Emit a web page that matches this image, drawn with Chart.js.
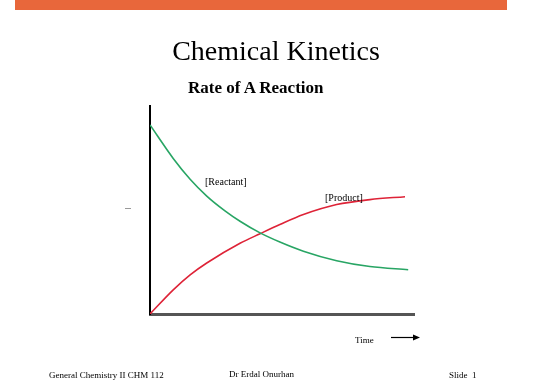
<!DOCTYPE html>
<html>
<head>
<meta charset="utf-8">
<script src="https://cdn.jsdelivr.net/npm/chart.js@4"></script>
<style>
  html,body{margin:0;padding:0;background:#fff;}
  #wrap{position:relative;width:550px;height:388px;overflow:hidden;font-family:"Liberation Serif","DejaVu Serif",serif;color:#000;}
  #bar{position:absolute;left:15px;top:0;width:492px;height:10px;background:#E8673B;}
  canvas{position:absolute;left:0;top:0;}
  .t{position:absolute;white-space:nowrap;line-height:1;}
</style>
</head>
<body>
<div id="wrap">
  <div id="bar"></div>
  <canvas id="c" width="550" height="388"></canvas>
  <div class="t" style="left:0;width:552px;text-align:center;top:37px;font-size:28px;">Chemical Kinetics</div>
  <div class="t" style="left:188px;top:79px;font-size:17px;font-weight:bold;">Rate of A Reaction</div>
  <div class="t" style="left:205px;top:177px;font-size:10px;">[Reactant]</div>
  <div class="t" style="left:325px;top:193px;font-size:10px;">[Product]</div>
  <div class="t" style="left:355px;top:336px;font-size:9px;">Time</div>
  <div class="t" style="left:49px;top:371px;font-size:9px;">General Chemistry II CHM 112</div>
  <div class="t" style="left:229px;top:370px;font-size:9px;">Dr Erdal Onurhan</div>
  <div class="t" style="left:449px;top:371px;font-size:9px;">Slide&nbsp; 1</div>
</div>
<script>
// Time points (arbitrary units) and concentrations
const reactantTime = [0, 0.88, 1.52, 2.15, 2.84, 3.41, 4.17, 4.92, 5.81, 7.07, 8.33, 9.78];
const reactantConc = [90.9, 74.8, 64.8, 56.7, 49.6, 44.6, 39.0, 34.6, 30.2, 25.6, 22.8, 21.3];
const productTime  = [0, 0.88, 1.52, 2.15, 3.41, 4.17, 4.92, 5.81, 7.07, 8.33, 9.66];
const productConc  = [0, 11.6, 18.8, 24.5, 34.0, 38.6, 43.0, 47.8, 52.6, 55.0, 56.4];
const seriesNames  = ["[Reactant]", "[Product]"];

const toPts = (xs, ys) => xs.map((x, i) => ({x: x, y: ys[i]}));

const extras = {
  id: 'extras',
  afterDraw(chart) {
    const ctx = chart.ctx;
    ctx.save();
    ctx.strokeStyle = '#999';
    ctx.lineWidth = 1;
    ctx.beginPath(); ctx.moveTo(125, 208.5); ctx.lineTo(131, 208.5); ctx.stroke();
    ctx.strokeStyle = '#000';
    ctx.fillStyle = '#000';
    ctx.lineWidth = 1.2;
    ctx.beginPath(); ctx.moveTo(391, 337.5); ctx.lineTo(416, 337.5); ctx.stroke();
    ctx.beginPath(); ctx.moveTo(420, 337.5); ctx.lineTo(413, 334.5); ctx.lineTo(413, 340.5); ctx.closePath(); ctx.fill();
    ctx.restore();
  }
};

new Chart(document.getElementById('c'), {
  type: 'line',
  data: {
    datasets: [
      {label: seriesNames[0], data: toPts(reactantTime, reactantConc), borderColor: 'rgb(40,165,100)', borderWidth: 1.6, pointRadius: 0, cubicInterpolationMode: 'monotone', fill: false},
      {label: seriesNames[1], data: toPts(productTime, productConc), borderColor: 'rgb(222,35,55)', borderWidth: 1.6, pointRadius: 0, cubicInterpolationMode: 'monotone', fill: false}
    ]
  },
  options: {
    responsive: false,
    animation: false,
    layout: {padding: {left: 150, right: 136, top: 106, bottom: 74}},
    plugins: {legend: {display: false}, tooltip: {enabled: false}, title: {display: false}},
    scales: {
      x: {type: 'linear', min: 0, max: 10,
          grid: {display: false, drawTicks: false},
          ticks: {display: false},
          border: {display: true, color: '#555', width: 3},
          afterFit(s) { s.height = 0; }},
      y: {type: 'linear', min: 0, max: 100,
          grid: {display: false, drawTicks: false},
          ticks: {display: false},
          border: {display: true, color: '#000', width: 2},
          afterFit(s) { s.width = 0; }}
    }
  },
  plugins: [extras]
});
</script>
</body>
</html>
